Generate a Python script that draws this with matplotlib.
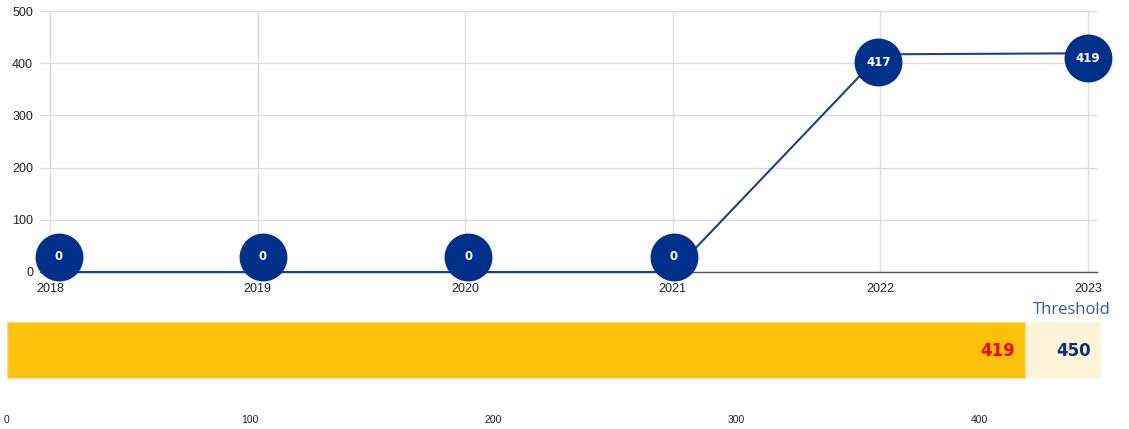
import matplotlib as mpl
mpl.use('Agg')

import matplotlib.pyplot as plt
from matplotlib.transforms import offset_copy

plt.rcParams['font.family'] = ['Liberation Sans', 'DejaVu Sans']

years = [2018, 2019, 2020, 2021, 2022, 2023]
values = [0, 0, 0, 0, 417, 419]
current = 419
threshold = 450
bar_ticks = [0, 100, 200, 300, 400]

# label bubble offsets in pixels (how the labels sit around the points)
bubble_dx = [9, 5, 3, 1, -2, 0]
bubble_dy = [15, 15, 15, 15, -8, -5]

NAVY = '#00318a'
LINE = '#1c3f8e'
YELLOW = '#fcc10b'
PALE = '#fff4d8'
BOLD = ['DejaVu Sans']

W, H = 1129, 429
fig = plt.figure(figsize=(W / 100, H / 100), dpi=100)


def px_axes(left, top, right, bottom):
    return fig.add_axes([left / W, 1 - bottom / H, (right - left) / W, (bottom - top) / H])


# ---- line chart ----
ax = px_axes(40, 11, 1097, 272)
ax.plot(years, values, color=LINE, lw=1.5, zorder=3, clip_on=False)
for i in range(len(years)):
    tr = offset_copy(ax.transData, fig=fig, x=bubble_dx[i], y=bubble_dy[i], units='dots')
    ax.scatter([years[i]], [values[i]], s=1120, color=NAVY, transform=tr, zorder=4, clip_on=False)
    ax.text(years[i], values[i], str(values[i]), transform=tr, ha='center', va='center',
            color='white', fontsize=8.5, fontweight='bold', family=BOLD,
            zorder=5, clip_on=False)

ax.set_xlim(2018 - 10 / 207.6, 2023 + 9 / 207.6)
ax.set_ylim(0, 500)
ax.set_xticks(years)
ax.set_yticks([0, 100, 200, 300, 400, 500])
ax.grid(True, color='#dcdcdc', lw=1)
ax.set_axisbelow(True)
for s in ['top', 'right', 'left']:
    ax.spines[s].set_visible(False)
ax.spines['bottom'].set_color('#555555')
ax.spines['bottom'].set_linewidth(1)
ax.tick_params(axis='both', length=0, labelsize=9, colors='#222222')
ax.tick_params(axis='x', pad=8)
ax.tick_params(axis='y', pad=5)

# ---- threshold bar ----
bx = px_axes(7, 300, 7 + threshold * 2.43, 400)
bx.barh([0], [threshold], height=0.56, color=PALE, edgecolor='none')
bx.barh([0], [current], height=0.56, color=YELLOW, edgecolor='#f3dc9a', lw=1)
bx.set_xlim(0, threshold)
bx.set_ylim(-0.5, 0.5)
bx.set_yticks([])
bx.set_xticks(bar_ticks)
bx.tick_params(axis='x', length=0, labelsize=7.5, pad=11, colors='#222222')
for s in bx.spines.values():
    s.set_visible(False)

bx.text(current - 4, -0.01, str(current), ha='right', va='center', color='#ff0000',
        fontsize=12, fontweight='bold', family=BOLD)
bx.text((current + threshold) / 2 + 4.5, -0.01, str(threshold), ha='center', va='center',
        color='#0b2f7a', fontsize=12, fontweight='bold', family=BOLD)
bx.text((current + threshold) / 2 + 3.5, 0.40, 'Threshold', ha='center', va='center',
        color='#2f5aa6', fontsize=12, family=['Open Sans', 'DejaVu Sans'], clip_on=False)

fig.savefig('out.png', dpi=100)
